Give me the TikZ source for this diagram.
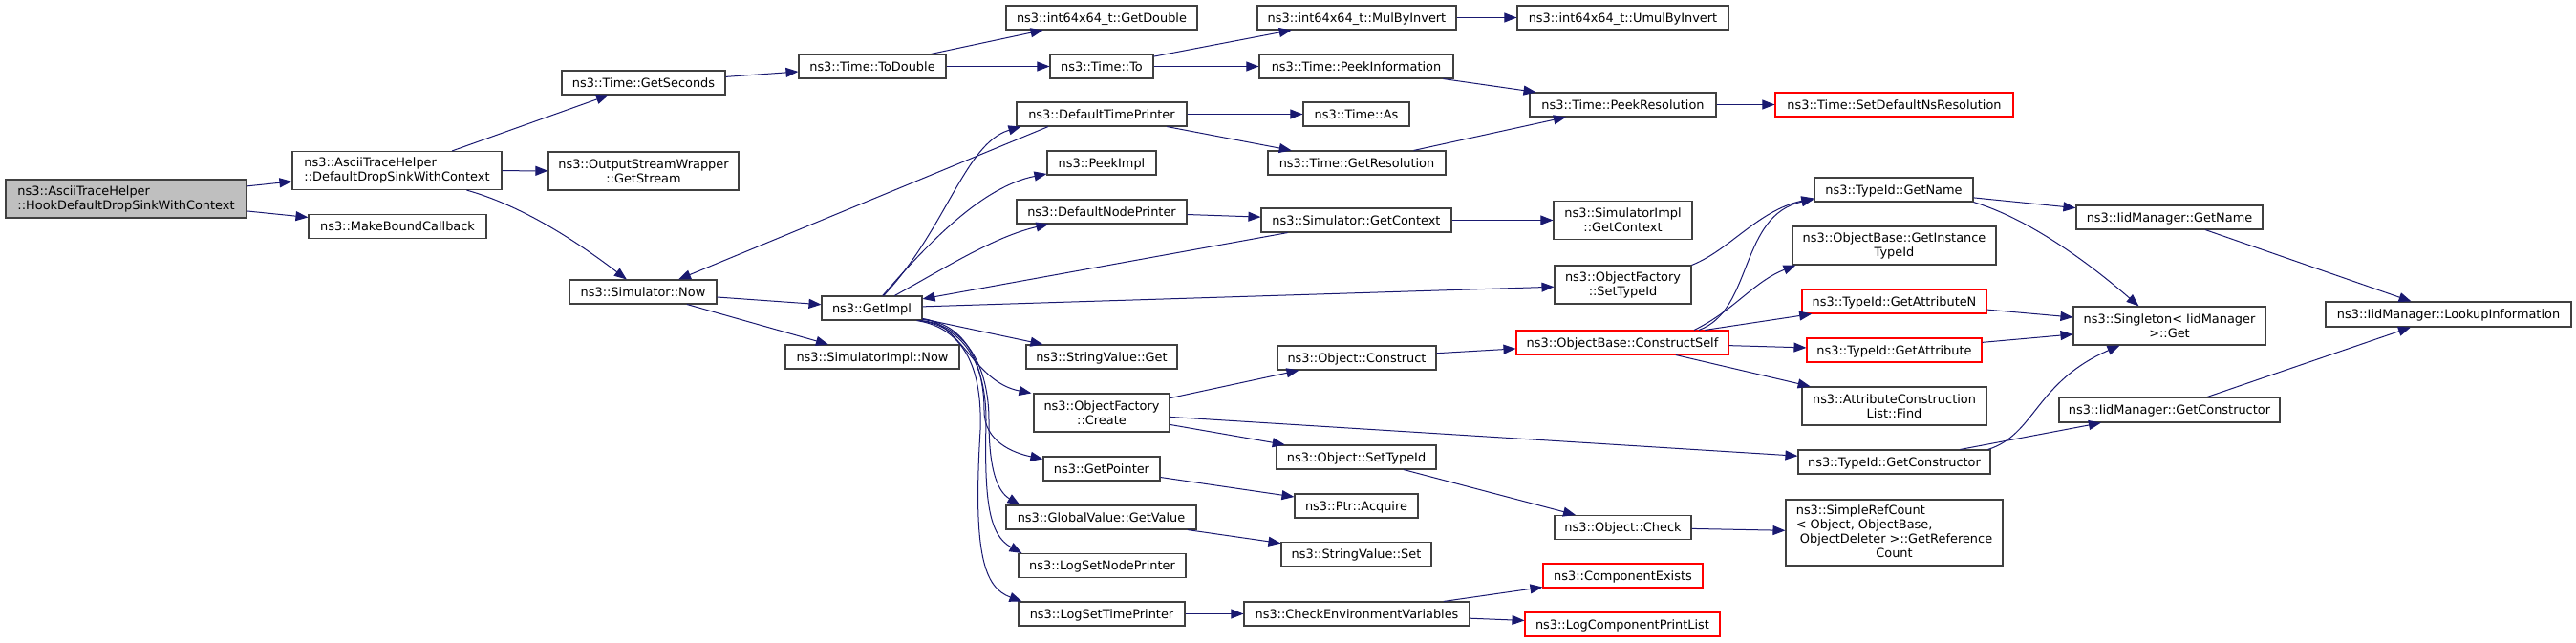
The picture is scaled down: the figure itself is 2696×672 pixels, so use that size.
\documentclass[tikz,border=0pt]{standalone}
\usepackage{fontspec}
\setmainfont{DejaVu Sans}
\usetikzlibrary{arrows.meta}

\definecolor{edgeblue}{HTML}{191970}
\definecolor{boxgray}{HTML}{404040}
\definecolor{hookgray}{HTML}{BFBFBF}

\begin{document}
\begin{tikzpicture}[x=1pt,y=-1pt,>={Stealth[inset=0pt,length=13pt,width=10pt]},
    fn node/.style={rectangle,draw=boxgray,line width=1.1pt,inner sep=0pt,minimum height=25,text height=10.5pt,text depth=1.5pt,font=\fontsize{12.9}{15}\selectfont},
    tall node/.style={rectangle,draw=boxgray,line width=1.1pt,inner sep=0pt,minimum height=40,font=\fontsize{12.9}{15}\selectfont},
    red node/.style={fn node,draw=red},
    root node/.style={tall node,fill=hookgray},
    call/.style={->,color=edgeblue,line width=1pt}]
            \useasboundingbox (0,0) rectangle (2696,672);

            % first column
            \node[root node, minimum width=252, align=left] (hook) [at = {(132,208)}]{ns3::AsciiTraceHelper\\::HookDefaultDropSinkWithContext};
            \node[tall node, minimum width=219, align=left] (ddswc) [at = {(415.5,178.5)}]{ns3::AsciiTraceHelper\\::DefaultDropSinkWithContext};
            \node[fn node, minimum width=186] (mbc) [at = {(416,237)}]{ns3::MakeBoundCallback};
            \node[fn node, minimum width=171] (getsec) [at = {(673.5,86.5)}]{ns3::Time::GetSeconds};
            \node[tall node, minimum width=199, align=center] (osw) [at = {(673.5,179)}]{ns3::OutputStreamWrapper\\::GetStream};
            \node[fn node, minimum width=154] (snow) [at = {(673,305.5)}]{ns3::Simulator::Now};
            \node[fn node, minimum width=154] (todouble) [at = {(913,69.5)}]{ns3::Time::ToDouble};
            \node[fn node, minimum width=105] (getimpl) [at = {(912.5,322.5)}]{ns3::GetImpl};
            \node[fn node, minimum width=182] (siminow) [at = {(913,373.5)}]{ns3::SimulatorImpl::Now};

            % callees of GetImpl and Time
            \node[fn node, minimum width=200] (getdouble) [at = {(1153,18.5)}]{ns3::int64x64\_t::GetDouble};
            \node[fn node, minimum width=108] (timeto) [at = {(1153,69.5)}]{ns3::Time::To};
            \node[fn node, minimum width=178] (dtp) [at = {(1153,119.5)}]{ns3::DefaultTimePrinter};
            \node[fn node, minimum width=114] (peekimpl) [at = {(1153,170.5)}]{ns3::PeekImpl};
            \node[fn node, minimum width=178] (dnp) [at = {(1153,221.5)}]{ns3::DefaultNodePrinter};
            \node[fn node, minimum width=158] (svget) [at = {(1153,373.5)}]{ns3::StringValue::Get};
            \node[tall node, minimum width=142, align=center] (ofcreate) [at = {(1153,432)}]{ns3::ObjectFactory\\::Create};
            \node[fn node, minimum width=122] (getptr) [at = {(1153,490.5)}]{ns3::GetPointer};
            \node[fn node, minimum width=199] (gvget) [at = {(1152.5,541.5)}]{ns3::GlobalValue::GetValue};
            \node[fn node, minimum width=175] (lsnp) [at = {(1153.5,592)}]{ns3::LogSetNodePrinter};
            \node[fn node, minimum width=174] (lstp) [at = {(1153,642.5)}]{ns3::LogSetTimePrinter};

            \node[fn node, minimum width=208] (mulinv) [at = {(1420,18.5)}]{ns3::int64x64\_t::MulByInvert};
            \node[fn node, minimum width=203] (peekinfo) [at = {(1419.5,69.5)}]{ns3::Time::PeekInformation};
            \node[fn node, minimum width=111] (timeas) [at = {(1419.5,119.5)}]{ns3::Time::As};
            \node[fn node, minimum width=186] (getres) [at = {(1420,170.5)}]{ns3::Time::GetResolution};
            \node[fn node, minimum width=199] (simctx) [at = {(1419.5,230.5)}]{ns3::Simulator::GetContext};
            \node[fn node, minimum width=166] (objcons) [at = {(1420,374.5)}]{ns3::Object::Construct};
            \node[fn node, minimum width=167] (objsettid) [at = {(1419.5,478.5)}]{ns3::Object::SetTypeId};
            \node[fn node, minimum width=129] (ptracq) [at = {(1419.5,529.5)}]{ns3::Ptr::Acquire};
            \node[fn node, minimum width=157] (svset) [at = {(1419.5,580)}]{ns3::StringValue::Set};
            \node[fn node, minimum width=236] (checkenv) [at = {(1420,642.5)}]{ns3::CheckEnvironmentVariables};

            \node[fn node, minimum width=221] (umul) [at = {(1698.5,18.5)}]{ns3::int64x64\_t::UmulByInvert};
            \node[fn node, minimum width=195] (peekres) [at = {(1698.5,109.5)}]{ns3::Time::PeekResolution};
            \node[tall node, minimum width=145, align=center] (simictx) [at = {(1698.5,230.5)}]{ns3::SimulatorImpl\\::GetContext};
            \node[tall node, minimum width=143, align=center] (ofsettid) [at = {(1698.5,298)}]{ns3::ObjectFactory\\::SetTypeId};
            \node[red node, minimum width=222] (cself) [at = {(1698,358.5)}]{ns3::ObjectBase::ConstructSelf};
            \node[fn node, minimum width=143] (objcheck) [at = {(1698.5,552)}]{ns3::Object::Check};
            \node[red node, minimum width=167] (compex) [at = {(1698.5,602.5)}]{ns3::ComponentExists};
            \node[red node, minimum width=204] (lcpl) [at = {(1698,653.5)}]{ns3::LogComponentPrintList};

            % TypeId and IidManager
            \node[red node, minimum width=249] (setdef) [at = {(1982.5,109.5)}]{ns3::Time::SetDefaultNsResolution};
            \node[fn node, minimum width=166] (tidname) [at = {(1982,198.5)}]{ns3::TypeId::GetName};
            \node[tall node, minimum width=213, align=center] (gitid) [at = {(1982.5,257)}]{ns3::ObjectBase::GetInstance\\TypeId};
            \node[red node, minimum width=193] (getattrn) [at = {(1982.5,315.5)}]{ns3::TypeId::GetAttributeN};
            \node[red node, minimum width=183] (getattr) [at = {(1982.5,366.5)}]{ns3::TypeId::GetAttribute};
            \node[tall node, minimum width=193, align=center] (acfind) [at = {(1982.5,425)}]{ns3::AttributeConstruction\\List::Find};
            \node[fn node, minimum width=201] (getctor) [at = {(1982.5,483.5)}]{ns3::TypeId::GetConstructor};
            \node[tall node, minimum width=227, minimum height=69] (srefc) [at = {(1982.5,557.5)}]{\begin{tabular}{@{}l@{}}ns3::SimpleRefCount\\< Object, ObjectBase,\\\multicolumn{1}{@{}c@{}}{\ ObjectDeleter >::GetReference}\\\multicolumn{1}{@{}c@{}}{Count}\end{tabular}};
            \node[fn node, minimum width=195] (iidname) [at = {(2270.5,227.5)}]{ns3::IidManager::GetName};
            \node[tall node, minimum width=201, align=center] (singleton) [at = {(2270.5,341)}]{ns3::Singleton< IidManager\\>::Get};
            \node[fn node, minimum width=231, minimum height=26] (iidctor) [at = {(2270.5,429)}]{ns3::IidManager::GetConstructor};
            \node[fn node, minimum width=257, minimum height=26] (lookup) [at = {(2562.5,329)}]{ns3::IidManager::LookupInformation};

            \path[call]
                (hook) edge (ddswc)
                (hook) edge (mbc)
                (ddswc) edge (getsec)
                (ddswc) edge (osw)
                (getsec) edge (todouble)
                (todouble) edge (getdouble)
                (todouble) edge (timeto)
                (timeto) edge (mulinv)
                (timeto) edge (peekinfo)
                (mulinv) edge (umul)
                (peekinfo) edge (peekres)
                (peekres) edge (setdef)
                (snow) edge (getimpl)
                (snow) edge (siminow)
                ([xshift=-56]dtp.south) edge ([xshift=37]snow.north)
                (dtp) edge (timeas)
                (dtp) edge (getres)
                (getres) edge (peekres)
                (dnp) edge (simctx)
                (simctx) edge (simictx)
                (simctx) edge (getimpl)
                (getimpl) edge (ofsettid)
                (getimpl) edge (svget)
                (ofcreate) edge (objcons)
                (ofcreate) edge (getctor)
                (ofcreate) edge (objsettid)
                (getptr) edge (ptracq)
                (gvget) edge (svset)
                (lstp) edge (checkenv)
                (checkenv) edge (compex)
                (checkenv) edge (lcpl)
                (objcons) edge (cself)
                (objsettid) edge (objcheck)
                (objcheck) edge (srefc)
                (cself) edge (getattrn)
                (cself) edge (getattr)
                (cself) edge (acfind)
                (tidname) edge (iidname)
                (getattrn) edge (singleton)
                (getattr) edge (singleton)
                (getctor) edge (iidctor)
                (iidname) edge (lookup)
                (iidctor) edge (lookup);

            % curved calls
            \draw[call] (ddswc) .. controls (545,215) and (600,250) .. (snow);
            \draw[call] (getimpl) .. controls (990,240) and (1010,150) .. ([xshift=5]dtp.south west);
            \draw[call] (getimpl) .. controls (975,250) and (1030,195) .. (peekimpl);
            \draw[call] (getimpl) .. controls (990,280) and (1040,248) .. (dnp);
            \draw[call] ([yshift=2]getimpl.south east) .. controls (1005,338) and (1020,400) .. ([xshift=-2]ofcreate.north west);
            \draw[call] ([yshift=1]getimpl.south east) .. controls (1010,338) and (1030,380) .. (1030,430) .. controls (1030,462) and (1060,474) .. ([yshift=-3]getptr.north west);
            \draw[call] ([xshift=-2]getimpl.south east) .. controls (1012,340) and (1035,385) .. (1035,440) .. controls (1035,495) and (1045,515) .. ([xshift=15]gvget.north west);
            \draw[call] ([xshift=-4]getimpl.south east) .. controls (1012,342) and (1032,385) .. (1032,440) .. controls (1030,525) and (1035,560) .. ([xshift=4]lsnp.north west);
            \draw[call] ([xshift=-6]getimpl.south east) .. controls (1012,344) and (1028,390) .. (1026,450) .. controls (1018,580) and (1030,615) .. ([xshift=4]lstp.north west);
            \draw[call] (ofsettid.north east) .. controls (1810,262) and (1840,220) .. ([yshift=4]tidname.south west);
            \draw[call] ([xshift=80]cself.north) .. controls (1835,325) and (1820,225) .. ([yshift=3]tidname.south west);
            \draw[call] ([xshift=75]cself.north) .. controls (1815,325) and (1835,295) .. ([xshift=4]gitid.south west);
            \draw[call] (tidname.south east) .. controls (2120,228) and (2180,270) .. ([xshift=-32]singleton.north);
            \draw[call] ([xshift=-3]getctor.north east) .. controls (2130,455) and (2130,400) .. ([xshift=-52]singleton.south);
        \end{tikzpicture}
\end{document}
